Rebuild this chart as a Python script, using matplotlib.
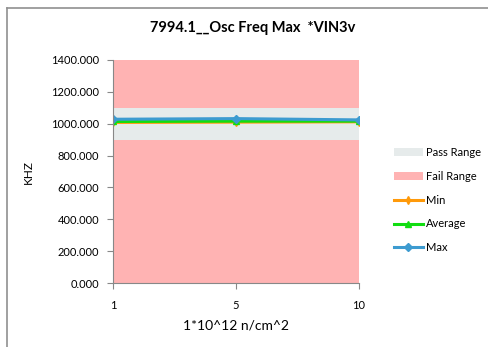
import matplotlib
matplotlib.use("Agg")
from matplotlib import pyplot as plt
from matplotlib.patches import Patch
from matplotlib.lines import Line2D

plt.rcParams['font.family'] = ['Lato', 'DejaVu Sans']

# data
dose = ['1', '5', '10']
min_vals = [1008, 1010, 1012]
avg_vals = [1014, 1016, 1016]
max_vals = [1028, 1032, 1024]
pass_lo, pass_hi = 900, 1100
fail_lo, fail_hi = 0, 1400
y_ticks = [0, 200, 400, 600, 800, 1000, 1200, 1400]

c_pass = '#e6ebeb'
c_fail = '#ffb3b3'
c_min = '#ff9a0a'
c_avg = '#11dd11'
c_max = '#3d9bd0'

fig = plt.figure(figsize=(4.89, 3.47), dpi=100)
ax = fig.add_axes([0.2311, 0.1844, 0.5031, 0.6427])

x = list(range(len(dose)))
ax.fill_between(x, fail_lo, fail_hi, color=c_fail, lw=0)
ax.fill_between(x, pass_lo, pass_hi, color=c_pass, lw=0)
ax.plot(x, min_vals, color=c_min, lw=2.2, marker='d', ms=4)
ax.plot(x, avg_vals, color=c_avg, lw=2.2, marker='^', ms=5)
ax.plot(x, max_vals, color=c_max, lw=2.2, marker='D', ms=4)

ax.set_xlim(0, len(dose) - 1)
ax.set_ylim(fail_lo, fail_hi)
ax.set_xticks(x)
ax.set_xticklabels(dose)
ax.set_yticks(y_ticks)
ax.set_yticklabels(['%.3f' % v for v in y_ticks])
for s in ['top', 'right']:
    ax.spines[s].set_visible(False)
for s in ['left', 'bottom']:
    ax.spines[s].set_color('#888888')
    ax.spines[s].set_linewidth(0.8)
ax.tick_params(colors='#888888', labelcolor='black', labelsize=8, length=4, width=0.8)
ax.tick_params(axis='y', pad=6)
ax.tick_params(axis='x', pad=8)
ax.set_xlabel('1*10^12 n/cm^2', fontsize=10, labelpad=6)
ax.set_ylabel('KHZ', fontsize=8.5, labelpad=12)
fig.text(0.517, 0.918, '7994.1__Osc Freq Max  *VIN3v', fontsize=10.5,
         fontweight='bold', ha='center', va='center')

handles = [
    Patch(facecolor=c_pass, edgecolor='none'),
    Patch(facecolor=c_fail, edgecolor='none'),
    Line2D([], [], color=c_min, lw=2.2, marker='d', ms=4),
    Line2D([], [], color=c_avg, lw=2.2, marker='^', ms=5),
    Line2D([], [], color=c_max, lw=2.2, marker='D', ms=4),
]
labels = ['Pass Range', 'Fail Range', 'Min', 'Average', 'Max']
fig.legend(handles, labels, loc='upper left', bbox_to_anchor=(0.785, 0.605),
           frameon=False, fontsize=8, handlelength=2.6, labelspacing=1.15,
           handletextpad=0.3)

# outer chart border
fig.add_artist(Line2D([0.0153, 1.0], [0.977, 0.977], color='#909090', lw=1.2))
fig.add_artist(Line2D([0.0153, 0.0153], [0.0, 0.977], color='#909090', lw=1.2))

fig.savefig('out.png', dpi=100)
